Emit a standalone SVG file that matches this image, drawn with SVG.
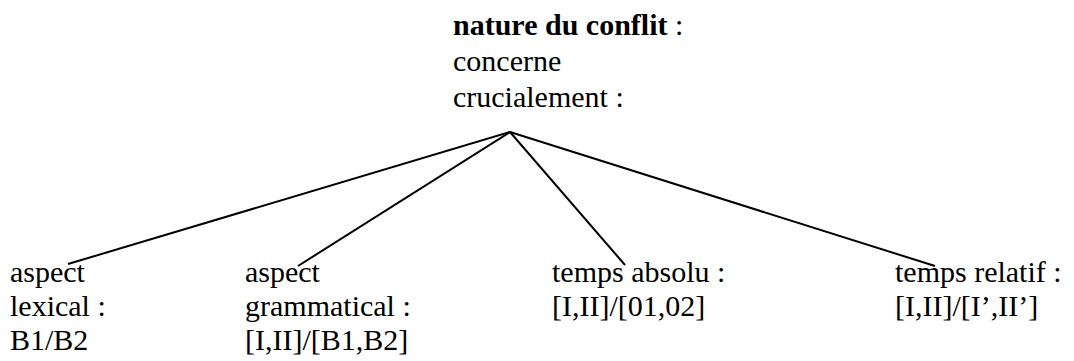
<svg xmlns="http://www.w3.org/2000/svg" width="1074" height="361" viewBox="0 0 1074 361" font-family="'Liberation Serif', 'Times New Roman', 'DejaVu Serif', serif" font-size="30">
<style>
text{font-family:'Liberation Serif','Times New Roman','DejaVu Serif',serif;font-size:30px;fill:#000}
.b{font-weight:bold}
.c line{stroke:#000;stroke-width:2}
</style>
<rect width="1074" height="361" fill="#fff"/>
<g id="connectors" class="c">
<line x1="510" y1="132" x2="68" y2="264"/>
<line x1="510" y1="132" x2="298" y2="266"/>
<line x1="510" y1="132" x2="625" y2="265"/>
<line x1="510" y1="132" x2="935" y2="266"/>
</g>
<g id="root">
<text x="453" y="35"><tspan class="b">nature du conflit</tspan> :</text>
<text x="453" y="71">concerne</text>
<text x="453" y="107">crucialement :</text>
</g>
<g id="aspect-lexical">
<text x="10" y="282">aspect</text>
<text x="10" y="316">lexical :</text>
<text x="10" y="350">B1/B2</text>
</g>
<g id="aspect-grammatical">
<text x="245" y="282">aspect</text>
<text x="245" y="316">grammatical :</text>
<text x="245" y="350">[I,II]/[B1,B2]</text>
</g>
<g id="temps-absolu">
<text x="552" y="282">temps absolu :</text>
<text x="552" y="316">[I,II]/[01,02]</text>
</g>
<g id="temps-relatif">
<text x="895" y="282">temps relatif :</text>
<text x="895" y="316">[I,II]/[I’,II’]</text>
</g>
</svg>
